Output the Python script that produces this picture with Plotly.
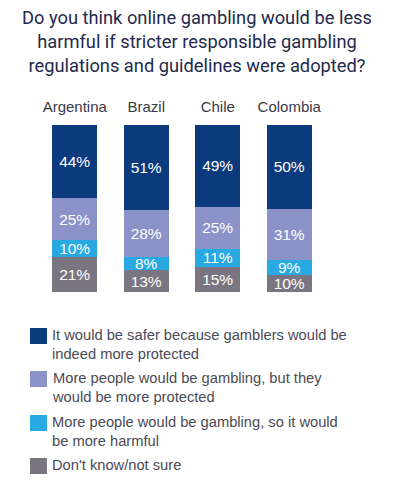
import plotly.graph_objects as go

countries = ["Argentina", "Brazil", "Chile", "Colombia"]
safer = [44, 51, 49, 50]
more_protected = [25, 28, 25, 31]
more_harmful = [10, 8, 11, 9]
dont_know = [21, 13, 15, 10]

series_names = [
    "It would be safer because gamblers would be<br>indeed more protected",
    "More people would be gambling, but they<br>would be more protected",
    "More people would be gambling, so it would<br>be more harmful",
    "Don't know/not sure",
]
colors = ["#0b3b7d", "#8b92c8", "#29a9e1", "#7a7681"]

title_text = ("Do you think online gambling would be less<br>"
              "harmful if stricter responsible gambling<br>"
              "regulations and guidelines were adopted?")

fig = go.Figure()
# stacked from bottom to top
stack = [(dont_know, 3), (more_harmful, 2), (more_protected, 1), (safer, 0)]
for vals, idx in stack:
    fig.add_trace(go.Bar(
        x=countries, y=vals,
        marker=dict(color=colors[idx], line=dict(width=0)),
        text=[f"{v}%" for v in vals],
        textposition="inside",
        insidetextanchor="middle",
        constraintext="none",
        textfont=dict(color="white", size=15.5, family="Liberation Sans, Arial"),
        textangle=0,
        hoverinfo="skip",
        showlegend=False,
    ))

# plot area in pixels: x 39..325, y 125..292
def px_x(px):
    return (px - 39) / 286

def px_y(py):
    return (292 - py) / 167

legend_tops = [328, 371, 415, 458]
for i, (name, top) in enumerate(zip(series_names, legend_tops)):
    fig.add_shape(type="rect", xref="paper", yref="paper",
                  x0=px_x(30), x1=px_x(47), y0=px_y(top + 16), y1=px_y(top),
                  line=dict(width=0), fillcolor=colors[i], layer="above")
    fig.add_annotation(xref="paper", yref="paper", x=px_x(50), y=px_y(top - 3),
                       xanchor="left", yanchor="top", align="left",
                       text=name, showarrow=False,
                       font=dict(size=14.7, color="#4a4a55",
                                 family="Liberation Sans, Arial"))

fig.add_annotation(xref="paper", yref="paper", x=px_x(197), y=px_y(5),
                   xanchor="center", yanchor="top", align="center",
                   text=title_text, showarrow=False,
                   font=dict(size=18.3, color="#232a4d", family="Roboto"))

fig.update_layout(
    width=400, height=491,
    margin=dict(l=39, r=75, t=125, b=199),
    paper_bgcolor="white", plot_bgcolor="white",
    barmode="stack", bargap=0.37,
    xaxis=dict(side="top", showgrid=False, showline=False, ticks="",
               ticklabelstandoff=9,
               tickfont=dict(size=15, color="#3a3a45", family="Liberation Sans, Arial"),
               range=[-0.5, 3.5], fixedrange=True),
    yaxis=dict(range=[0, 100], visible=False, fixedrange=True),
    showlegend=False,
)

fig.write_html("out.html")
